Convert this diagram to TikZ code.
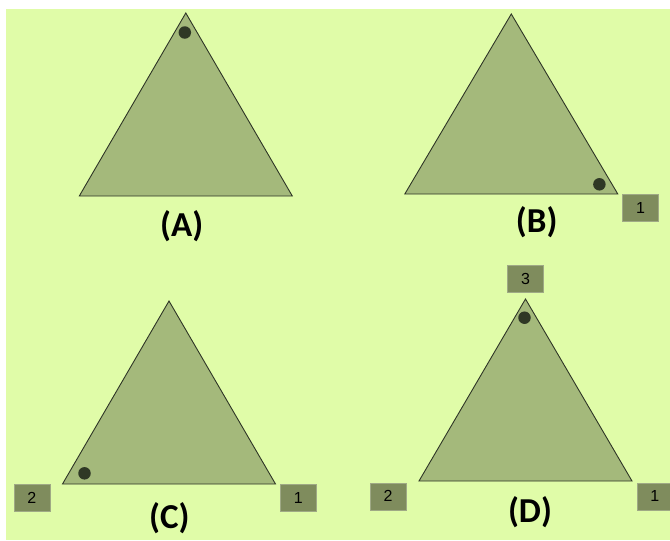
\documentclass[tikz,border=0pt]{standalone}
\usepackage{fontspec}
\setmainfont{Carlito}
\newfontfamily\numfont{Liberation Sans}
\usepackage{tikz}
\usetikzlibrary{calc,positioning}
\definecolor{PanelGreen}{HTML}{E0FCA8}
\definecolor{TriFill}{HTML}{A4B97B}
\definecolor{TriEdge}{HTML}{2E3526}
\definecolor{DotDark}{HTML}{2F3825}
\definecolor{BoxFill}{HTML}{7F8C5D}

\begin{document}
\begin{tikzpicture}[x=1pt,y=-1pt, tri/.style={draw=TriEdge,fill=TriFill,line width=0.9pt,line join=miter}, cdot/.style={circle,fill=DotDark,minimum size=12.5pt,inner sep=0pt}, numbox/.style={fill=BoxFill,draw=BoxFill!75!white,line width=0.6pt,minimum width=36pt,minimum height=27pt,inner sep=0pt,font=\numfont\fontsize{16}{16}\selectfont}, caption/.style={font=\bfseries\fontsize{35}{35}\selectfont,inner sep=0pt}]
\useasboundingbox (0,0) rectangle (670,541);
\fill[PanelGreen] (6,9) rectangle (670,540);
% the four triangles: base centre and height
\foreach \n/\x/\y/\h in {A/185.8/196/183,B/511.3/194/180,C/169/484/183,D/525.5/481/182}{
  \coordinate (\n l) at (\x-106.5,\y);
  \coordinate (\n r) at (\x+106.5,\y);
  \coordinate (\n t) at (\x,\y-\h);
  \draw[tri] (\n l) -- (\n r) -- (\n t) -- cycle;
}
% dots in the corners
\node[cdot] (Adot) at ($(At)+(-1,19.5)$) {};
\node[cdot] (Bdot) at ($(Br)+(-18.4,-9.7)$) {};
\node[cdot] (Cdot) at ($(Cl)+(22,-10.7)$) {};
\node[cdot] (Ddot) at ($(Dt)+(-1,18.7)$) {};
% captions
\node[caption] (Acap) at (181.7,226) {(A)};
\node[caption] (Bcap) at (536.7,222.5) {(B)};
\node[caption] (Ccap) at (169.3,518) {(C)};
\node[caption] (Dcap) at (530,512.5) {(D)};
% numbered boxes
\node[numbox,anchor=north west] (B1) at ([shift={(4.5,0)}]Br) {1};
\node[numbox,anchor=north west] (C1) at ([shift={(4.5,0)}]Cr) {1};
\node[numbox,anchor=north east] (C2) at ([shift={(-12.3,0)}]Cl) {2};
\node[numbox,anchor=north west] (D1) at ([shift={(4.5,1.5)}]Dr) {1};
\node[numbox,anchor=north east] (D2) at ([shift={(-12.6,1.5)}]Dl) {2};
\node[numbox,anchor=south] (D3) at ([shift={(0,-6.3)}]Dt) {3};
\end{tikzpicture}
\end{document}
